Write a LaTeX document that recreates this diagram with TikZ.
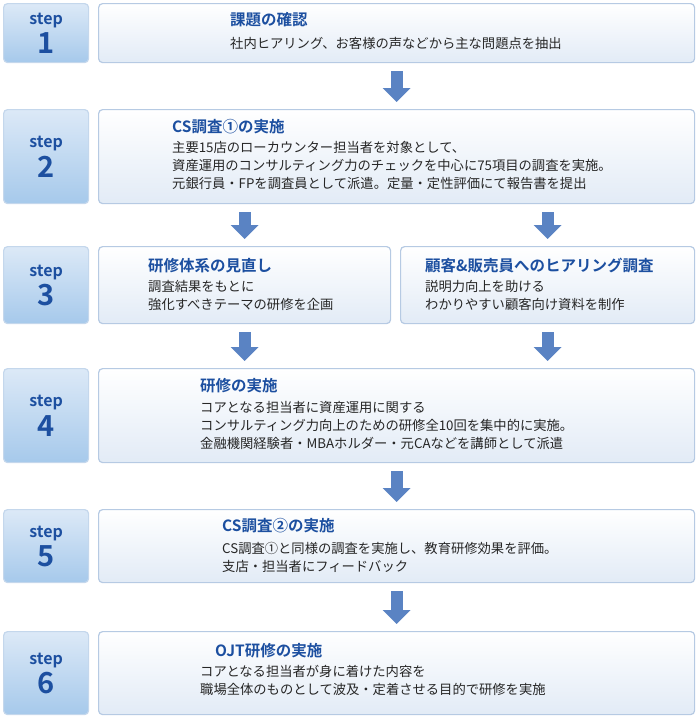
\documentclass[tikz,border=0pt]{standalone}
\usepackage{fontspec}
\setmainfont{Noto Sans CJK JP}[BoldFont={Noto Sans CJK JP Bold}]
\usetikzlibrary{positioning,calc,arrows.meta}
\definecolor{stepblue}{HTML}{1C4FA0}
\definecolor{steptop}{HTML}{DCE9F7}
\definecolor{stepbot}{HTML}{A6C9EB}
\definecolor{stepline}{HTML}{C4D7EC}
\definecolor{boxline}{HTML}{B6CAE3}
\definecolor{boxbot}{HTML}{E2EBF6}
\definecolor{arrblue}{HTML}{5A83C3}
\tikzset{
  stepbox/.style={draw=stepline, line width=1.2pt, rounded corners=4pt,
    top color=steptop, bottom color=stepbot, minimum width=85pt, anchor=north west},
  mainbox/.style={draw=boxline, line width=1.2pt, rounded corners=4pt,
    top color=white, bottom color=boxbot, anchor=north west},
  steplabel/.style={text=stepblue, font=\bfseries\fontsize{16}{16}\selectfont},
  stepnum/.style={text=stepblue, font=\bfseries\fontsize{29}{29}\selectfont},
  boxtitle/.style={anchor=west, text=stepblue, font=\bfseries\fontsize{15.5}{16}\selectfont, inner sep=0pt},
  boxtext/.style={anchor=north west, align=left, text=black!85, font=\fontsize{13.3}{18}\selectfont, inner sep=0pt},
  downarrow/.style={arrblue, line width=12pt, -{Triangle[width=27pt,length=14pt]}, shorten <=8pt, shorten >=7pt}
}
\begin{document}
\begin{tikzpicture}[x=1pt,y=-1pt]
  \useasboundingbox (0,0) rectangle (698,720);
  % step boxes
  \node[stepbox, minimum height=59pt] (s1) at (3,3) {};
  \node[stepbox, minimum height=94pt] (s2) at (3,109) {};
  \node[stepbox, minimum height=77pt] (s3) at (3,246) {};
  \node[stepbox, minimum height=94pt] (s4) at (3,368) {};
  \node[stepbox, minimum height=73pt] (s5) at (3,509) {};
  \node[stepbox, minimum height=83pt] (s6) at (3,631) {};
  \foreach \n in {1,...,6}{
    \node[steplabel] at ($(s\n.center)+(0,-13)$) {step};
    \node[stepnum] at ($(s\n.center)+(0,10)$) {\n};
  }
  % content boxes
  \node[mainbox, minimum width=596pt, minimum height=59pt] (b1) at (98,3) {};
  \node[mainbox, minimum width=596pt, minimum height=94pt] (b2) at (98,109) {};
  \node[mainbox, minimum width=292pt, minimum height=77pt] (b3l) at (98,246) {};
  \node[mainbox, minimum width=294pt, minimum height=77pt] (b3r) at (400,246) {};
  \node[mainbox, minimum width=596pt, minimum height=94pt] (b4) at (98,368) {};
  \node[mainbox, minimum width=596pt, minimum height=73pt] (b5) at (98,509) {};
  \node[mainbox, minimum width=596pt, minimum height=83pt] (b6) at (98,631) {};
  % texts
  \node[boxtitle] (t1) at (230,20) {課題の確認};
  \node[boxtext] at (230,37) {社内ヒアリング、お客様の声などから主な問題点を抽出};
  \node[boxtitle] (t2) at (172,127) {CS調査①の実施};
  \node[boxtext] at (172,141) {主要15店のローカウンター担当者を対象として、\\資産運用のコンサルティング力のチェックを中心に75項目の調査を実施。\\元銀行員・FPを調査員として派遣。定量・定性評価にて報告書を提出};
  \node[boxtitle] (t3l) at (148,266) {研修体系の見直し};
  \node[boxtext] at (148,280) {調査結果をもとに\\強化すべきテーマの研修を企画};
  \node[boxtitle] (t3r) at (425,266) {顧客\&販売員へのヒアリング調査};
  \node[boxtext] at (425,280) {説明力向上を助ける\\わかりやすい顧客向け資料を制作};
  \node[boxtitle] (t4) at (200,386) {研修の実施};
  \node[boxtext] at (200,401) {コアとなる担当者に資産運用に関する\\コンサルティング力向上のための研修全10回を集中的に実施。\\金融機関経験者・MBAホルダー・元CAなどを講師として派遣};
  \node[boxtitle] (t5) at (222,526) {CS調査②の実施};
  \node[boxtext] at (222,542) {CS調査①と同様の調査を実施し、教育研修効果を評価。\\支店・担当者にフィードバック};
  \node[boxtitle] (t6) at (215,651) {OJT研修の実施};
  \node[boxtext] at (200,665) {コアとなる担当者が身に着けた内容を\\職場全体のものとして波及・定着させる目的で研修を実施};
  % arrows
  \draw[downarrow] (b1.south) -- (b2.north);
  \draw[downarrow] (b3l.north |- b2.south) -- (b3l.north);
  \draw[downarrow] (b3r.north |- b2.south) -- (b3r.north);
  \draw[downarrow] (b3l.south) -- (b3l.south |- b4.north);
  \draw[downarrow] (b3r.south) -- (b3r.south |- b4.north);
  \draw[downarrow] (b4.south) -- (b5.north);
  \draw[downarrow] (b5.south) -- (b6.north);
\end{tikzpicture}
\end{document}
